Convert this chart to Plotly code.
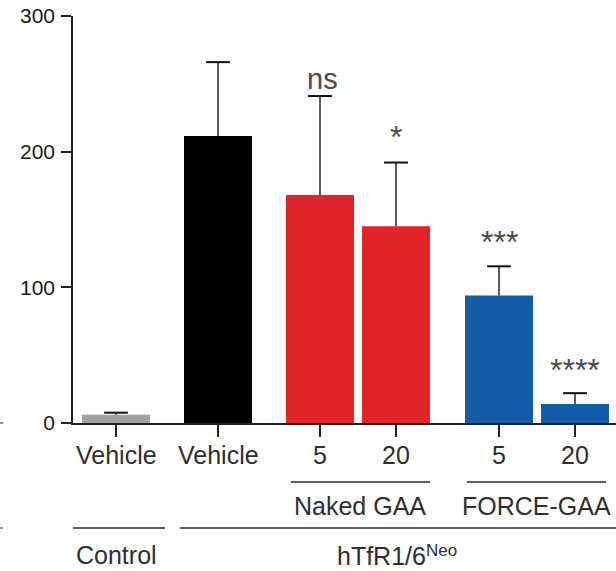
import plotly.graph_objects as go

# ---------------- data ----------------
groups = ["Control Vehicle", "hTfR Vehicle", "Naked GAA 5", "Naked GAA 20", "FORCE-GAA 5", "FORCE-GAA 20"]
tick_labels = ["Vehicle", "Vehicle", "5", "20", "5", "20"]
means = [6, 211.5, 168, 145, 94, 14]
sem = [1.6, 54.5, 73, 47, 21.5, 8]
sig_labels = ["", "", "ns", "*", "***", "****"]
bar_colors = ["#a2a2a4", "#000000", "#e02427", "#e02427", "#135ca8", "#135ca8"]

# ---------------- layout constants ----------------
W, H = 616, 571
PL, PR, PT, PB = 73, 616, 16, 423   # plot area in page pixels
x_pos = [116, 218, 320, 396, 499, 575]
bar_w = 68
x_range = [PL, PR]
y_range = [0, 300]
FONT = "Liberation Sans, Arial, Helvetica, sans-serif"

def px2p(px):
    return (px - PL) / (PR - PL)

def py2p(py):
    return (PB - py) / (PB - PT)

fig = go.Figure()
fig.add_trace(go.Bar(
    x=x_pos, y=means, width=bar_w,
    marker=dict(color=bar_colors, line=dict(width=0)),
    showlegend=False, hoverinfo="skip",
))
# error bar stems (upper only)
sx, sy = [], []
for xp, m, e in zip(x_pos, means, sem):
    sx += [xp, xp, None]
    sy += [m, m + e, None]
fig.add_trace(go.Scatter(x=sx, y=sy, mode="lines", line=dict(color="#333333", width=1.6),
                         showlegend=False, hoverinfo="skip", cliponaxis=False))
fig.add_trace(go.Scatter(x=x_pos, y=[m + e for m, e in zip(means, sem)], mode="markers",
                         marker=dict(symbol="line-ew", size=17, line=dict(color="#111111", width=2)),
                         showlegend=False, hoverinfo="skip", cliponaxis=False))

annotations = []
def add_text(text, px, py, size, color="#2e2e2e", xanchor="center"):
    annotations.append(dict(x=px2p(px), y=py2p(py), xref="paper", yref="paper", text=text,
                            showarrow=False, font=dict(size=size, color=color, family=FONT),
                            xanchor=xanchor, yanchor="middle", borderpad=0))

# x tick labels
for xp, t in zip(x_pos, tick_labels):
    add_text(t, xp, 455, 25)
# significance labels
sig_py = [None, None, 79, 137, 242, 370]
for xp, s, pyy in zip(x_pos, sig_labels, sig_py):
    if s:
        add_text(s, xp + (2 if s == "ns" else 0), pyy, 29 if s == "ns" else 32, "#4a4a4a")
# group labels
for t, xp, pyy in [("Naked GAA", 360, 506), ("FORCE-GAA", 536, 506), ("Control", 116, 555)]:
    add_text(t, xp, pyy, 25)
add_text("hTfR1/6", 427, 556, 25, xanchor="right")
add_text("Neo", 425, 550, 17, xanchor="left")

shapes = []
line_style = dict(color="#2a2a2a", width=1.5)
for x0, x1, pyy in [(291, 430, 482), (467, 606, 482), (73, 165, 528), (180, 616, 528)]:
    shapes.append(dict(type="line", xref="paper", yref="paper", x0=px2p(x0), x1=px2p(x1),
                       y0=py2p(pyy), y1=py2p(pyy), line=line_style))
# small edge marks at far left
for pyy in [423, 528]:
    shapes.append(dict(type="line", xref="paper", yref="paper", x0=px2p(0), x1=px2p(3),
                       y0=py2p(pyy), y1=py2p(pyy), line=dict(color="#444444", width=1.2)))

fig.update_layout(
    width=W, height=H,
    margin=dict(l=PL, r=W - PR, t=PT, b=H - PB, pad=0),
    paper_bgcolor="white", plot_bgcolor="white",
    font=dict(family=FONT, color="#222222"),
    xaxis=dict(range=x_range, showgrid=False, zeroline=False, showline=True,
               linecolor="#222222", linewidth=1.5, ticks="outside", ticklen=12,
               tickwidth=1.5, tickcolor="#222222", tickvals=x_pos, showticklabels=False,
               fixedrange=True),
    yaxis=dict(range=y_range, showgrid=False, zeroline=False, showline=True,
               linecolor="#222222", linewidth=1.5, ticks="outside", ticklen=10,
               tickwidth=1.5, tickcolor="#222222", tickvals=[0, 100, 200, 300],
               tickfont=dict(size=21, color="#1a1a1a", family=FONT), ticklabelstandoff=2,
               fixedrange=True),
    annotations=annotations,
    shapes=shapes,
)

fig.write_html("out.html", config={"displayModeBar": False},
               post_script="document.body.style.margin='0px';")
